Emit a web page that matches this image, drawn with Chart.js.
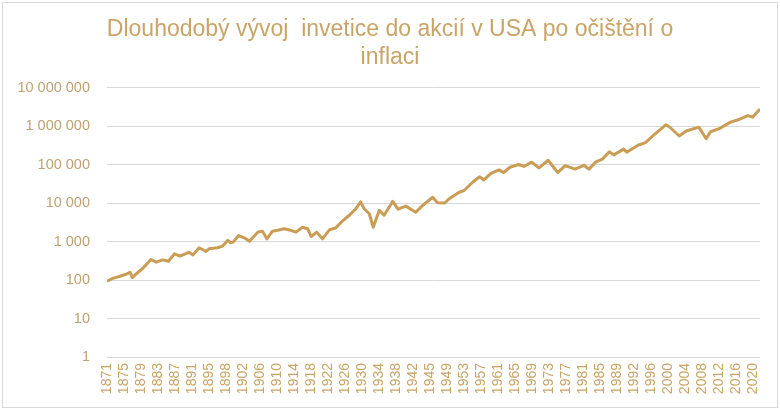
<!DOCTYPE html>
<html>
<head>
<meta charset="utf-8">
<title>Dlouhodobý vývoj investice</title>
<script src="https://cdn.jsdelivr.net/npm/chart.js@4.4.1/dist/chart.umd.min.js"></script>
<style>
  html, body { margin: 0; padding: 0; background: #fff; }
  #wrap { position: relative; width: 780px; height: 411px; }
  #frame {
    position: absolute; left: 2px; top: 2px; width: 774px; height: 404px;
    border: 1px solid #d9d9d9; pointer-events: none;
  }
</style>
</head>
<body>
<div id="wrap">
  <canvas id="myChart" width="780" height="411"></canvas>
  <div id="frame"></div>
</div>
<script>
const years = [
  1871.17, 1872.5, 1874.0, 1875.5, 1876.5, 1877.0, 1877.8, 1879.4, 1881.3, 1882.5,
  1884.0, 1885.3, 1886.7, 1888.0, 1890.0, 1891.0, 1892.4, 1894.0, 1894.7, 1896.6,
  1897.8, 1899.0, 1899.7, 1900.3, 1901.5, 1902.8, 1904.0, 1905.9, 1907.0, 1908.0,
  1909.3, 1910.5, 1912.0, 1913.2, 1914.7, 1916.2, 1917.4, 1918.2, 1919.5, 1920.8,
  1922.4, 1923.9, 1925.4, 1927.0, 1928.5, 1929.6, 1930.4, 1931.6, 1932.5, 1933.9,
  1935.0, 1937.0, 1938.2, 1940.0, 1942.3, 1943.9, 1946.2, 1947.3, 1949.0, 1950.0,
  1952.3, 1953.5, 1955.4, 1957.0, 1958.0, 1959.6, 1961.5, 1962.5, 1964.0, 1966.0,
  1967.2, 1969.0, 1970.7, 1972.8, 1975.0, 1976.7, 1979.0, 1981.0, 1982.2, 1983.8,
  1985.3, 1986.9, 1987.9, 1990.2, 1990.9, 1993.5, 1995.2, 1997.5, 1999.9, 2000.7,
  2003.0, 2004.6, 2007.5, 2009.2, 2010.2, 2012.2, 2014.8, 2016.8, 2018.8, 2019.9,
  2021.6
];
const values = [
  93, 110, 123, 141, 158, 115, 141, 200, 340, 290,
  333, 306, 478, 415, 525, 450, 690, 550, 645, 690,
  760, 1070, 930, 980, 1430, 1250, 1020, 1750, 1850, 1170,
  1850, 1950, 2140, 2000, 1750, 2350, 2140, 1350, 1750, 1170,
  2000, 2270, 3400, 4800, 7100, 10700, 7100, 5250, 2350, 6450,
  4800, 11000, 6900, 8300, 5750, 8700, 14100, 10200, 10000, 12900,
  19000, 21400, 34700, 47900, 39800, 58900, 72400, 61700, 85000, 100000,
  89000, 115000, 81300, 129000, 61700, 93300, 75900, 95500, 75900, 117000,
  138000, 214000, 178000, 251000, 209000, 316000, 372000, 631000, 1070000, 955000,
  550000, 741000, 933000, 468000, 708000, 851000, 1260000, 1480000, 1860000, 1700000,
  2750000
];

const xTickLabels = [
  "1871", "1875", "1879", "1883", "1887", "1891", "1895", "1898", "1902", "1906",
  "1910", "1914", "1918", "1922", "1926", "1930", "1934", "1938", "1942", "1945",
  "1949", "1953", "1957", "1961", "1965", "1969", "1973", "1977", "1981", "1985",
  "1989", "1992", "1996", "2000", "2004", "2008", "2012", "2016", "2020"
];
const yTickValues = [1, 10, 100, 1000, 10000, 100000, 1000000, 10000000];

const gold = "#C99D55";
const firstYear = 1871.17;
const lastYear = 2021.6;
const tickStep = 47 / 12; // one label every 47 months

function spaced(v) {
  return String(v).replace(/\B(?=(\d{3})+(?!\d))/g, " ");
}

const ctx = document.getElementById("myChart").getContext("2d");

const chart = new Chart(ctx, {
  type: "line",
  data: {
    datasets: [
      {
        label: "USA",
        data: years.map((y, i) => ({ x: y, y: values[i] })),
        borderColor: gold,
        borderWidth: 3,
        borderJoinStyle: "round",
        pointRadius: 0,
        tension: 0,
        fill: false,
      },
    ],
  },
  options: {
    responsive: false,
    animation: false,
    devicePixelRatio: 1,
    layout: { padding: 0 },
    plugins: {
      legend: { display: false },
      tooltip: { enabled: false },
      title: {
        display: true,
        text: ["Dlouhodobý vývoj  invetice do akcií v USA po očištění o", "inflaci"],
        color: "#C9A466",
        font: { family: "'Liberation Sans', Arial, sans-serif", size: 23, weight: "normal", lineHeight: 1.25 },
        padding: { top: 15, bottom: 15 },
      },
    },
    scales: {
      x: {
        type: "linear",
        min: firstYear,
        max: lastYear,
        afterBuildTicks: (scale) => {
          scale.ticks = xTickLabels.map((l, i) => ({ value: firstYear + i * tickStep }));
        },
        afterFit: (scale) => {
          scale.height = 54;
        },
        grid: { display: false, drawTicks: false },
        border: { display: false },
        ticks: {
          autoSkip: false,
          minRotation: 90,
          maxRotation: 90,
          padding: 6,
          color: "#C9A466",
          font: { family: "'Liberation Sans', Arial, sans-serif", size: 14 },
          callback: (value, index) => xTickLabels[index],
        },
      },
      y: {
        type: "logarithmic",
        min: 1,
        max: 10000000,
        afterBuildTicks: (scale) => {
          scale.ticks = yTickValues.map((v) => ({ value: v }));
        },
        afterFit: (scale) => {
          scale.width = 107;
        },
        grid: { color: "#D9D9D9", lineWidth: 1, drawTicks: false },
        border: { display: false },
        ticks: {
          padding: 17,
          color: "#BFA273",
          font: { family: "'Liberation Sans', Arial, sans-serif", size: 14.5 },
          callback: (value) => spaced(value),
        },
      },
      // empty right-hand strip so the plot ends where the reference does
      yRight: {
        type: "linear",
        position: "right",
        display: true,
        grid: { display: false, drawTicks: false },
        border: { display: false },
        ticks: { display: false },
        afterFit: (scale) => {
          scale.width = 20;
        },
      },
    },
  },
});
</script>
</body>
</html>
